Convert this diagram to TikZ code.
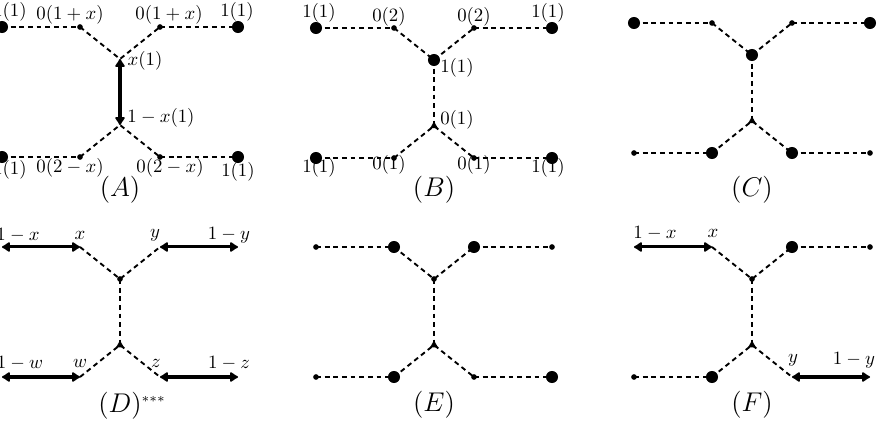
\documentclass[tikz,border=0pt]{standalone}
\usepackage{amsmath}
\usetikzlibrary{arrows.meta, shapes.geometric}

\begin{document}
\begin{tikzpicture}[
    x=0.532pt, y=-0.532pt,
    edge/.style     = {line width=1pt, dash pattern=on 2.6pt off 2pt},
    flow/.style     = {{Latex[round,length=5pt,width=6.5pt]}-{Latex[round,length=5pt,width=6.5pt]},
                       line width=1.6pt},
    bigdot/.style   = {circle, fill, inner sep=0pt, minimum size=6.4pt},
    smalldot/.style = {circle, fill, inner sep=0pt, minimum size=3pt},
    tridot/.style   = {regular polygon, regular polygon sides=3, fill,
                       inner sep=0pt, minimum size=4.8pt},
    lbl/.style      = {inner sep=0pt, font=\normalsize},
    tag/.style      = {inner sep=0pt, font=\Large},
]
\useasboundingbox (0,0) rectangle (879,428);

% skeleton of each panel: outer/inner ends, top and bottom junctions
\foreach \p/\cx/\t in {A/120/27, B/434/28, C/752/23, D/120/247, E/434/247, F/752/247} {
  \coordinate (\p-ol)  at (\cx-118,\t);
  \coordinate (\p-il)  at (\cx-40,\t);
  \coordinate (\p-ir)  at (\cx+40,\t);
  \coordinate (\p-or)  at (\cx+118,\t);
  \coordinate (\p-top) at (\cx,\t+32);
  \coordinate (\p-bot) at (\cx,\t+98);
  \coordinate (\p-bol) at (\cx-118,\t+130);
  \coordinate (\p-bil) at (\cx-40,\t+130);
  \coordinate (\p-bir) at (\cx+40,\t+130);
  \coordinate (\p-bor) at (\cx+118,\t+130);
  \draw[edge] (\p-il) -- (\p-top) -- (\p-ir);
  \draw[edge] (\p-bil) -- (\p-bot) -- (\p-bir);
}

% outer legs
\foreach \p in {A,B,C,E}
  \foreach \a/\b in {ol/il, ir/or, bol/bil, bir/bor}
    \draw[edge] (\p-\a) -- (\p-\b);
\foreach \a/\b in {ol/il, ir/or, bol/bil, bir/bor}
  \draw[flow] (D-\a) -- (D-\b);
\draw[flow] (F-ol) -- (F-il);
\draw[edge] (F-ir) -- (F-or);
\draw[edge] (F-bol) -- (F-bil);
\draw[flow] (F-bir) -- (F-bor);

% middle edges
\draw[flow] (A-top) -- (A-bot);
\foreach \p in {B,C,D,E,F}
  \draw[edge] (\p-top) -- (\p-bot);

% dots
\foreach \c in {ol,or,bol,bor} \node[bigdot] (A-\c-d) at (A-\c) {};
\foreach \c in {il,ir,bil,bir} \node[smalldot] (A-\c-d) at (A-\c) {};
\foreach \c in {ol,or,bol,bor,top} \node[bigdot] (B-\c-d) at (B-\c) {};
\foreach \c in {il,ir,bil,bir} \node[smalldot] (B-\c-d) at (B-\c) {};
\foreach \c in {ol,or,top,bil,bir} \node[bigdot] (C-\c-d) at (C-\c) {};
\foreach \c in {il,ir,bol,bor} \node[smalldot] (C-\c-d) at (C-\c) {};
\node[smalldot] (D-top-d) at (D-top) {};
\foreach \c in {il,ir,bil,bor} \node[bigdot] (E-\c-d) at (E-\c) {};
\foreach \c in {ol,or,top,bol,bir} \node[smalldot] (E-\c-d) at (E-\c) {};
\foreach \c in {ir,bil} \node[bigdot] (F-\c-d) at (F-\c) {};
\foreach \c in {or,top,bol} \node[smalldot] (F-\c-d) at (F-\c) {};
\foreach \p in {B,C,D,E,F} \node[tridot] (\p-bot-d) at (\p-bot) {};

% labels (A)
\node[lbl] (A-l1)  at (10,12)   {$1(1)$};
\node[lbl] (A-l2)  at (70,15)   {$0(1+x)$};
\node[lbl] (A-l3)  at (169,15)  {$0(1+x)$};
\node[lbl] (A-l4)  at (237,12)  {$1(1)$};
\node[lbl] (A-l5)  at (145,61)  {$x(1)$};
\node[lbl] (A-l6)  at (161,118) {$1-x(1)$};
\node[lbl] (A-l7)  at (10,170)  {$1(1)$};
\node[lbl] (A-l8)  at (70,168)  {$0(2-x)$};
\node[lbl] (A-l9)  at (170,168) {$0(2-x)$};
\node[lbl] (A-l10) at (238,172) {$1(1)$};
\node[tag] (A-tag) at (120,190) {$(A)$};

% labels (B)
\node[lbl] (B-l1)  at (319,13)  {$1(1)$};
\node[lbl] (B-l2)  at (389,17)  {$0(2)$};
\node[lbl] (B-l3)  at (474,17)  {$0(2)$};
\node[lbl] (B-l4)  at (548,13)  {$1(1)$};
\node[lbl] (B-l5)  at (457,68)  {$1(1)$};
\node[lbl] (B-l6)  at (457,120) {$0(1)$};
\node[lbl] (B-l7)  at (319,168) {$1(1)$};
\node[lbl] (B-l8)  at (389,165) {$0(1)$};
\node[lbl] (B-l9)  at (474,165) {$0(1)$};
\node[lbl] (B-l10) at (548,168) {$1(1)$};
\node[tag] (B-tag) at (434,190) {$(B)$};

\node[tag] (C-tag) at (752,190) {$(C)$};

% labels (D)
\node[lbl] (D-l1) at (18,235)  {$1-x$};
\node[lbl] (D-l2) at (80,235)  {$x$};
\node[lbl] (D-l3) at (155,235) {$y$};
\node[lbl] (D-l4) at (229,235) {$1-y$};
\node[lbl] (D-l5) at (20,363)  {$1-w$};
\node[lbl] (D-l6) at (80,363)  {$w$};
\node[lbl] (D-l7) at (156,363) {$z$};
\node[lbl] (D-l8) at (229,363) {$1-z$};
\node[tag, anchor=west] (D-tag) at (98,406) {$(D)^{\scriptscriptstyle ***}$};

\node[tag] (E-tag) at (434,405) {$(E)$};

% labels (F)
\node[lbl] (F-l1) at (655,233) {$1-x$};
\node[lbl] (F-l2) at (713,233) {$x$};
\node[lbl] (F-l3) at (793,360) {$y$};
\node[lbl] (F-l4) at (854,360) {$1-y$};
\node[tag] (F-tag) at (752,405) {$(F)$};

\end{tikzpicture}
\end{document}
